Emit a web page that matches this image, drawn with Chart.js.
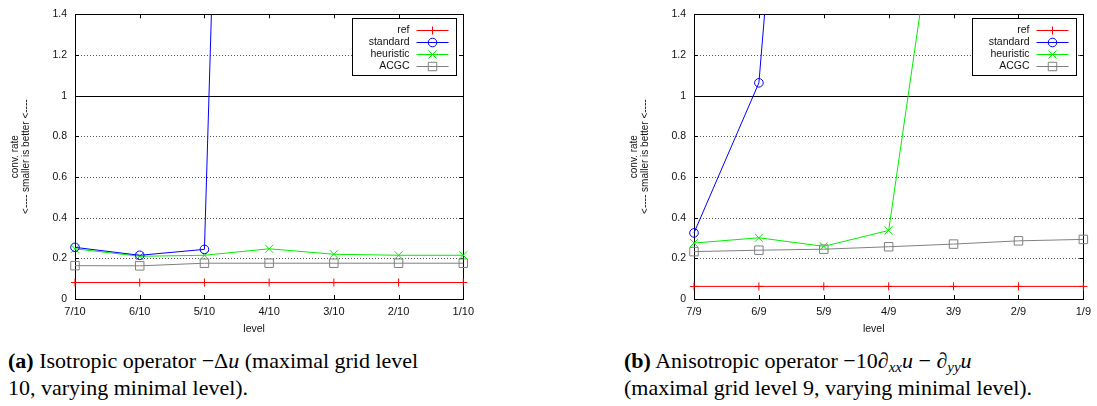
<!DOCTYPE html>
<html>
<head>
<meta charset="utf-8">
<script src="https://cdn.jsdelivr.net/npm/chart.js@4/dist/chart.umd.min.js"></script>
<style>
  html, body { margin: 0; padding: 0; background: #fff; }
  body { width: 1097px; height: 406px; overflow: hidden; position: relative; }
  canvas { position: absolute; top: 0; }
  .cap { position: absolute; top: 347px; font-family: 'Liberation Serif', 'Times New Roman', serif;
         font-size: 22px; line-height: 27px; color: #000; white-space: nowrap; }
  .cap sub { font-size: 15px; vertical-align: -4px; line-height: 0; }
</style>
</head>
<body>
<canvas id="chartA" width="480" height="340" style="left:0"></canvas>
<canvas id="chartB" width="478" height="340" style="left:619px"></canvas>
<div class="cap" style="left:8px"><b>(a)</b> Isotropic operator −Δ<i>u</i> (maximal grid level<br>10, varying minimal level).</div>
<div class="cap" style="left:624px"><b>(b)</b> Anisotropic operator −10∂<sub><i>xx</i></sub><i>u</i> − ∂<sub><i>yy</i></sub><i>u</i><br>(maximal grid level 9, varying minimal level).</div>
<script>
// series names (legend order)
const seriesNames = ['ref', 'standard', 'heuristic', 'ACGC'];
const yTicks = [0, 0.2, 0.4, 0.6, 0.8, 1, 1.2, 1.4];

// (a) isotropic, max level 10
const levelsA = ['7/10', '6/10', '5/10', '4/10', '3/10', '2/10', '1/10'];
const refA = [0.081, 0.081, 0.081, 0.081, 0.081, 0.081, 0.081];
const standardA = [0.254, 0.215, 0.244, 11, null, null, null];
const heuristicA = [0.247, 0.21, 0.215, 0.247, 0.22, 0.215, 0.215];
const acgcA = [0.164, 0.163, 0.176, 0.176, 0.176, 0.176, 0.176];

// (b) anisotropic, max level 9
const levelsB = ['7/9', '6/9', '5/9', '4/9', '3/9', '2/9', '1/9'];
const refB = [0.062, 0.062, 0.062, 0.062, 0.062, 0.062, 0.062];
const standardB = [0.325, 1.063, 4.9, null, null, null, null];
const heuristicB = [0.275, 0.301, 0.259, 0.337, 2.55, null, null];
const acgcB = [0.233, 0.24, 0.245, 0.257, 0.27, 0.286, 0.293];

const colors = ['#ff0000', '#0000ff', '#00ee00', '#808080'];
const styles = ['cross', 'circle', 'crossRot', 'rect'];
const radii = [4, 4.3, 5.7, 6];

const FONT = "'Liberation Sans', Arial, sans-serif";

function mark(ctx, style, x, y, r) {
    ctx.beginPath();
    if (style === 'cross') {
        ctx.moveTo(x - r, y); ctx.lineTo(x + r, y);
        ctx.moveTo(x, y - r); ctx.lineTo(x, y + r);
    } else if (style === 'circle') {
        ctx.arc(x, y, r, 0, Math.PI * 2);
    } else if (style === 'crossRot') {
        const d = r * Math.SQRT1_2;
        ctx.moveTo(x - d, y - d); ctx.lineTo(x + d, y + d);
        ctx.moveTo(x - d, y + d); ctx.lineTo(x + d, y - d);
    } else {
        const s = r * Math.SQRT1_2;
        ctx.rect(x - s, y - s, 2 * s, 2 * s);
    }
    ctx.stroke();
}

// gnuplot-like frame: border, dotted grid, inward ticks
const framePlugin = {
    id: 'frame',
    beforeDatasetsDraw(chart) {
        const { ctx, chartArea: a, scales: { x, y } } = chart;
        ctx.save();
        ctx.lineWidth = 1;
        y.ticks.forEach(t => {
            const py = Math.round(y.getPixelForValue(t.value)) + 0.5;
            if (t.value > 0 && t.value < 1.4) {
                const one = Math.abs(t.value - 1) < 1e-9;
                ctx.strokeStyle = one ? '#000' : '#555';
                ctx.setLineDash(one ? [] : [1, 2]);
                ctx.beginPath(); ctx.moveTo(a.left, py); ctx.lineTo(a.right, py); ctx.stroke();
            }
            ctx.setLineDash([]);
            ctx.strokeStyle = '#000';
            ctx.beginPath();
            ctx.moveTo(a.left, py); ctx.lineTo(a.left + 4, py);
            ctx.moveTo(a.right, py); ctx.lineTo(a.right - 4, py);
            ctx.stroke();
        });
        x.ticks.forEach((t, i) => {
            const px = Math.round(x.getPixelForTick(i)) + 0.5;
            ctx.beginPath();
            ctx.moveTo(px, a.bottom); ctx.lineTo(px, a.bottom - 4);
            ctx.moveTo(px, a.top); ctx.lineTo(px, a.top + 4);
            ctx.stroke();
        });
        ctx.strokeStyle = '#000';
        ctx.strokeRect(Math.round(a.left) + 0.5, Math.round(a.top) + 0.5,
            Math.round(a.right - a.left), Math.round(a.bottom - a.top));
        ctx.restore();
    },
    afterDraw(chart) {
        const { ctx, chartArea: a } = chart;
        ctx.save();
        // x axis title
        ctx.font = '10.5px ' + FONT;
        ctx.fillStyle = '#111';
        ctx.textAlign = 'center';
        ctx.textBaseline = 'middle';
        ctx.fillText('level', (a.left + a.right) / 2 - 15, a.bottom + 30);
        // legend
        const w = 104, h = 57;
        const left = Math.round(a.right - 7 - w) + 0.5, top = Math.round(a.top + 4) + 0.5;
        ctx.fillStyle = '#fff';
        ctx.fillRect(left, top, w, h);
        ctx.strokeStyle = '#000';
        ctx.lineWidth = 1;
        ctx.strokeRect(left, top, w, h);
        chart.data.datasets.forEach((ds, i) => {
            const yy = Math.round(top + 11.5 + i * 12);
            ctx.fillStyle = '#111';
            ctx.textAlign = 'right';
            ctx.fillText(ds.label, left + 57, yy);
            ctx.strokeStyle = ds.borderColor;
            ctx.beginPath(); ctx.moveTo(left + 64, yy + 0.5); ctx.lineTo(left + 96, yy + 0.5); ctx.stroke();
            mark(ctx, ds.pointStyle, left + 80, yy + 0.5, ds.pointRadius);
        });
        ctx.restore();
    }
};

function makeChart(id, labels, series, rightPad) {
    const datasets = series.map((data, i) => ({
        label: seriesNames[i],
        data: data,
        borderColor: colors[i],
        borderWidth: 1,
        backgroundColor: 'rgba(0,0,0,0)',
        pointStyle: styles[i],
        pointRadius: radii[i],
        pointBorderColor: colors[i],
        pointBackgroundColor: 'rgba(0,0,0,0)',
        pointBorderWidth: 1,
        tension: 0,
        spanGaps: false,
        clip: { left: 10, right: 10, top: 0, bottom: 10 }
    }));
    return new Chart(document.getElementById(id), {
        type: 'line',
        data: { labels: labels, datasets: datasets },
        options: {
            responsive: false,
            animation: false,
            devicePixelRatio: 1,
            layout: { padding: { left: 0, right: rightPad, top: 12, bottom: 0 } },
            plugins: { legend: { display: false }, tooltip: { enabled: false } },
            scales: {
                x: {
                    type: 'category',
                    offset: false,
                    grid: { display: false, drawTicks: false },
                    border: { display: false },
                    ticks: { padding: 6, color: '#111', font: { family: FONT, size: 11 }, maxRotation: 0, autoSkip: false },
                    afterFit(s) { s.height = 41; }
                },
                y: {
                    min: 0,
                    max: 1.4,
                    grid: { display: false, drawTicks: false },
                    border: { display: false },
                    afterBuildTicks(s) { s.ticks = yTicks.map(v => ({ value: v })); },
                    ticks: { padding: 8, color: '#111', font: { family: FONT, size: 10.5 }, callback: v => String(v) },
                    title: {
                        display: true,
                        text: ['conv. rate', '<---- smaller is better <----'],
                        color: '#111',
                        font: { family: FONT, size: 10, lineHeight: 1.1 },
                        padding: { top: 9.5, bottom: 0 }
                    },
                    afterFit(s) { s.width = 75; }
                }
            }
        },
        plugins: [framePlugin]
    });
}

makeChart('chartA', levelsA, [refA, standardA, heuristicA, acgcA], 13);
makeChart('chartB', levelsB, [refB, standardB, heuristicB, acgcB], 11);
</script>
</body>
</html>
